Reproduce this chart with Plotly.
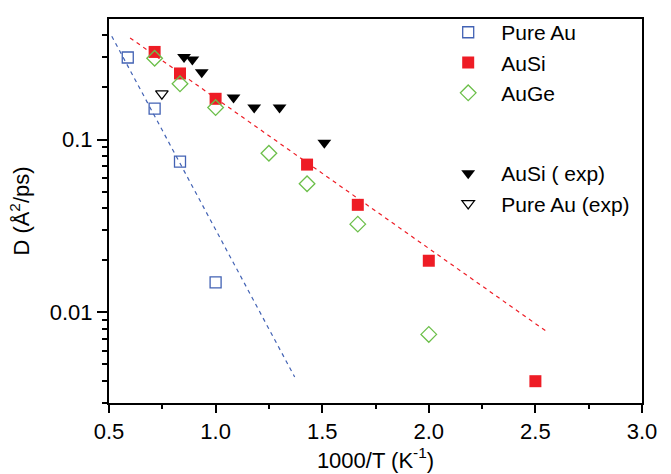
import plotly.graph_objects as go

# Data (1000/T in K^-1, D in A^2/ps)
pure_au_x = [0.588, 0.714, 0.833, 1.0]
pure_au_y = [0.298, 0.151, 0.0744, 0.0149]

ausi_x = [0.714, 0.833, 1.0, 1.429, 1.667, 2.0, 2.5]
ausi_y = [0.321, 0.241, 0.172, 0.0716, 0.0419, 0.0199, 0.0040]

auge_x = [0.714, 0.833, 1.0, 1.25, 1.429, 1.667, 2.0]
auge_y = [0.295, 0.210, 0.153, 0.0833, 0.0555, 0.0324, 0.00746]

ausi_exp_x = [0.852, 0.891, 0.935, 1.084, 1.181, 1.300, 1.51]
ausi_exp_y = [0.300, 0.290, 0.245, 0.175, 0.153, 0.153, 0.0958]

pure_au_exp_x = [0.748]
pure_au_exp_y = [0.184]

# Fit lines (end points)
fit_au_x = [0.513, 1.371]
fit_au_y = [0.396, 0.00423]
fit_ausi_x = [0.599, 2.56]
fit_ausi_y = [0.387, 0.00764]

BLUE = "#4262b4"
RED = "#ee1c25"
GREEN = "#6cbf4a"
FONT = "Liberation Sans, Arial, sans-serif"
FS = 22

fig = go.Figure()

fig.add_trace(go.Scatter(x=fit_au_x, y=fit_au_y, mode="lines", showlegend=False,
                         line=dict(color=BLUE, width=1.2, dash="4px,4px"), hoverinfo="skip"))
fig.add_trace(go.Scatter(x=fit_ausi_x, y=fit_ausi_y, mode="lines", showlegend=False,
                         line=dict(color=RED, width=1.2, dash="4px,4px"), hoverinfo="skip"))

fig.add_trace(go.Scatter(x=pure_au_x, y=pure_au_y, mode="markers", name="Pure Au",
                         legendgroup="a",
                         marker=dict(symbol="square-open", size=11, color=BLUE,
                                     line=dict(width=1.3, color=BLUE))))
fig.add_trace(go.Scatter(x=ausi_x, y=ausi_y, mode="markers", name="AuSi",
                         legendgroup="a",
                         marker=dict(symbol="square", size=12, color=RED,
                                     line=dict(width=0))))
fig.add_trace(go.Scatter(x=auge_x, y=auge_y, mode="markers", name="AuGe",
                         legendgroup="a",
                         marker=dict(symbol="diamond-open", size=12, color=GREEN,
                                     line=dict(width=1.3, color=GREEN))))
fig.add_trace(go.Scatter(x=ausi_exp_x, y=ausi_exp_y, mode="markers", name="AuSi ( exp)",
                         legendgroup="b",
                         marker=dict(symbol="triangle-down", size=12, color="black",
                                     line=dict(width=0))))
fig.add_trace(go.Scatter(x=pure_au_exp_x, y=pure_au_exp_y, mode="markers", name="Pure Au (exp)",
                         legendgroup="b",
                         marker=dict(symbol="triangle-down-open", size=11, color="black",
                                     line=dict(width=1.2, color="black"))))

fig.update_layout(
    width=671, height=474,
    margin=dict(l=109, r=29, t=14, b=69),
    paper_bgcolor="white", plot_bgcolor="white",
    font=dict(family=FONT, size=FS, color="black"),
    legend=dict(x=0.612, y=1.018, xanchor="left", yanchor="top",
                bgcolor="rgba(0,0,0,0)", font=dict(size=21),
                tracegroupgap=50, itemwidth=56),
)

fig.update_xaxes(
    range=[0.5, 3.0], dtick=0.5, tick0=0.5, tickformat=".1f",
    showline=True, linecolor="black", linewidth=2, mirror=True,
    ticks="outside", ticklen=8, tickwidth=2, tickcolor="black",
    showgrid=False, zeroline=False,
    minor=dict(dtick=0.25, ticks="outside", ticklen=4, tickwidth=2, tickcolor="black", showgrid=False),
    title=dict(text="1000/T (K<sup>-1</sup>)", standoff=2, font=dict(size=FS)),
    tickfont=dict(size=FS),
)

minor_vals = [0.003, 0.004, 0.005, 0.006, 0.007, 0.008, 0.009,
              0.02, 0.03, 0.04, 0.05, 0.06, 0.07, 0.08, 0.09,
              0.2, 0.3, 0.4]
fig.update_yaxes(
    type="log", range=[-2.524, -0.303],
    tickvals=[0.01, 0.1], ticktext=["0.01", "0.1"],
    showline=True, linecolor="black", linewidth=2, mirror=True,
    ticks="outside", ticklen=10, tickwidth=2, tickcolor="black",
    showgrid=False, zeroline=False,
    minor=dict(tickvals=minor_vals, ticks="outside", ticklen=5, tickwidth=2, tickcolor="black", showgrid=False),
    title=dict(text="D (Å<sup>2</sup>/ps)", standoff=14, font=dict(size=FS)),
    tickfont=dict(size=FS),
)

fig.write_html("out.html")
